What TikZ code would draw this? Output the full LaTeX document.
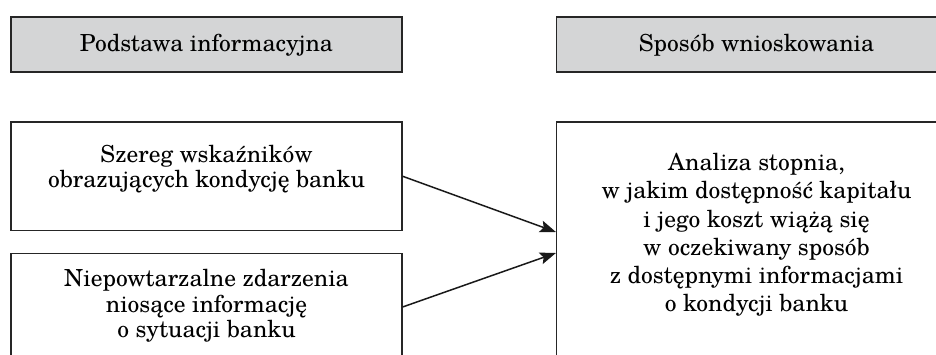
\documentclass[tikz,border=0pt]{standalone}
\usepackage{fontspec}
\setmainfont{texgyreschola-regular.otf}
\usetikzlibrary{arrows.meta}
\definecolor{hdrgray}{HTML}{D4D5D6}
\definecolor{linec}{HTML}{262626}
\tikzset{
  frame/.style={draw=linec, line width=1.2pt, inner sep=0pt, anchor=center},
  hdr/.style={frame, fill=hdrgray, font=\fontsize{23.5}{26}\selectfont, text height=17.6pt, text depth=3.2pt},
  txtl/.style={align=center, inner sep=0pt, font=\fontsize{23.5}{25.5}\selectfont},
  txtr/.style={align=center, inner sep=0pt, font=\fontsize{23.5}{28.3}\selectfont},
  conn/.style={draw=black!90, line width=1.5pt, -{Stealth[length=16pt,width=12pt,inset=3pt]}}
}
\begin{document}
\begin{tikzpicture}[x=1pt,y=1pt]
\useasboundingbox (0,0) rectangle (936,354);
\clip (0,0) rectangle (936,354);
% headers
\node[hdr, minimum width=391, minimum height=55] (h1) at (206.5,309.5) {Podstawa informacyjna};
\node[hdr, minimum width=400, minimum height=55] (h2) at (756.5,309.5) {Sposób wnioskowania};
% left boxes
\node[frame, minimum width=391, minimum height=108.5] (szereg) at (206.5,177.75) {};
\node[txtl] (szeregtxt) at ([yshift=7]szereg.center) {Szereg wskaźników\\obrazujących kondycję banku};
\node[frame, minimum width=391, minimum height=107] (niep) at (206.5,47) {};
\node[txtl] (nieptxt) at ([yshift=1]niep.center) {Niepowtarzalne zdarzenia\\niosące informację\\o sytuacji banku};
% right box
\node[frame, minimum width=400, minimum height=241] (big) at (756.5,111.5) {};
\node[txtr] (bigtxt) at ([yshift=7.5]big.center) {Analiza stopnia,\\w jakim dostępność kapitału\\i jego koszt wiążą się\\w oczekiwany sposób\\z dostępnymi informacjami\\o kondycji banku};
% connectors
\draw[conn] (szereg.east) -- ([yshift=10.5]big.west);
\draw[conn] (niep.east) -- ([yshift=-10.5]big.west);
\end{tikzpicture}
\end{document}
